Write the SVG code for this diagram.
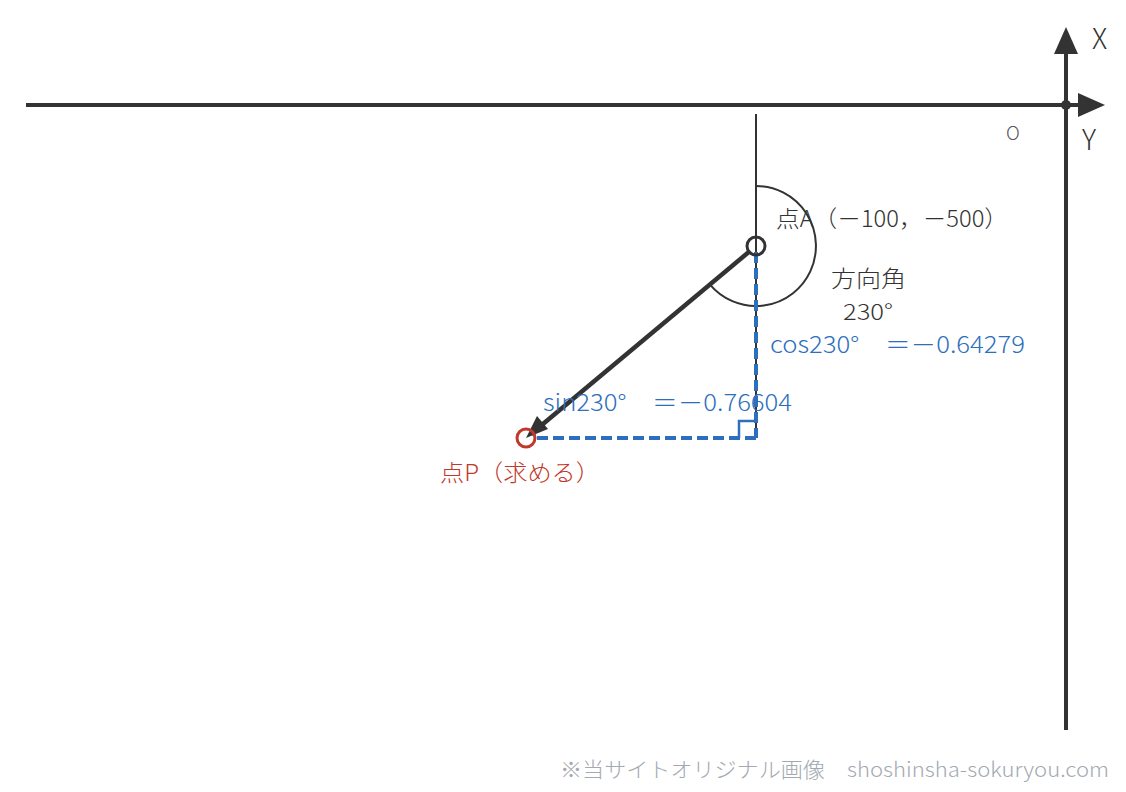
<svg xmlns="http://www.w3.org/2000/svg" width="1126" height="792" viewBox="0 0 1126 792">
<style>
text{font-family:"Noto Sans CJK JP","Noto Sans",sans-serif;font-weight:300;}
.dk{fill:#333;font-size:23px;}
.bl{fill:#2e6fbd;font-size:23px;}
.rd{fill:#c0392b;font-size:23px;}
.ax{stroke:#333;stroke-width:4;fill:none;}
.dash{stroke:#2e6fbd;stroke-width:4;stroke-dasharray:11 5;fill:none;}
</style>
<rect width="1126" height="792" fill="#fff"/>
<g id="axes">
<line class="ax" x1="26" y1="105" x2="1080" y2="105"/>
<path d="M1078,93 L1105,105 L1078,117 z" fill="#333"/>
<line class="ax" x1="1066" y1="52" x2="1066" y2="730"/>
<path d="M1054,54 L1066,27 L1078,54 z" fill="#333"/>
<circle cx="1066" cy="105" r="5" fill="#333"/>
<text x="1092" y="49" style="font-size:28px;fill:#333">X</text>
<text x="1082" y="150" style="font-size:28px;fill:#333">Y</text>
<text x="1006" y="140" style="font-size:19px;fill:#555">O</text>
</g>
<g id="connectors">
<line x1="756" y1="114" x2="756" y2="438" stroke="#333" stroke-width="2"/>
<path d="M756,186 A60,60 0 1 1 710,284.6" stroke="#333" stroke-width="2" fill="none"/>
<line class="dash" x1="756" y1="252" x2="756" y2="438"/>
<line class="dash" x1="756" y1="438" x2="532" y2="438"/>
<path d="M739,438 V421 H755" stroke="#2e6fbd" stroke-width="2.5" fill="none"/>
<line x1="750" y1="251" x2="531" y2="434" stroke="#333" stroke-width="4.5"/>
<path d="M526,438 L537,416 L548,429 z" fill="#333"/>
</g>
<g id="pointA">
<circle cx="756" cy="246" r="9" fill="none" stroke="#333" stroke-width="3"/>
<text class="dk" x="776" y="227" textLength="232" lengthAdjust="spacingAndGlyphs">点A（－100，－500）</text>
</g>
<g id="angle">
<text class="dk" x="831" y="287" textLength="75" lengthAdjust="spacingAndGlyphs">方向角</text>
<text class="dk" x="843" y="320" style="font-size:22px" textLength="50" lengthAdjust="spacingAndGlyphs">230°</text>
</g>
<g id="cos">
<text class="bl" x="770" y="353" textLength="255" lengthAdjust="spacingAndGlyphs">cos230°　＝－0.64279</text>
</g>
<g id="sin">
<text class="bl" x="543" y="411" textLength="249" lengthAdjust="spacingAndGlyphs">sin230°　＝－0.76604</text>
</g>
<g id="pointP">
<circle cx="526" cy="438" r="9" fill="none" stroke="#c0392b" stroke-width="3"/>
<text class="rd" x="440" y="481" textLength="160" lengthAdjust="spacingAndGlyphs">点P（求める）</text>
</g>
<g id="footer">
<text x="560" y="777" textLength="549" lengthAdjust="spacingAndGlyphs" style="font-size:21px;fill:#a3a9b0">※当サイトオリジナル画像　shoshinsha-sokuryou.com</text>
</g>
</svg>
